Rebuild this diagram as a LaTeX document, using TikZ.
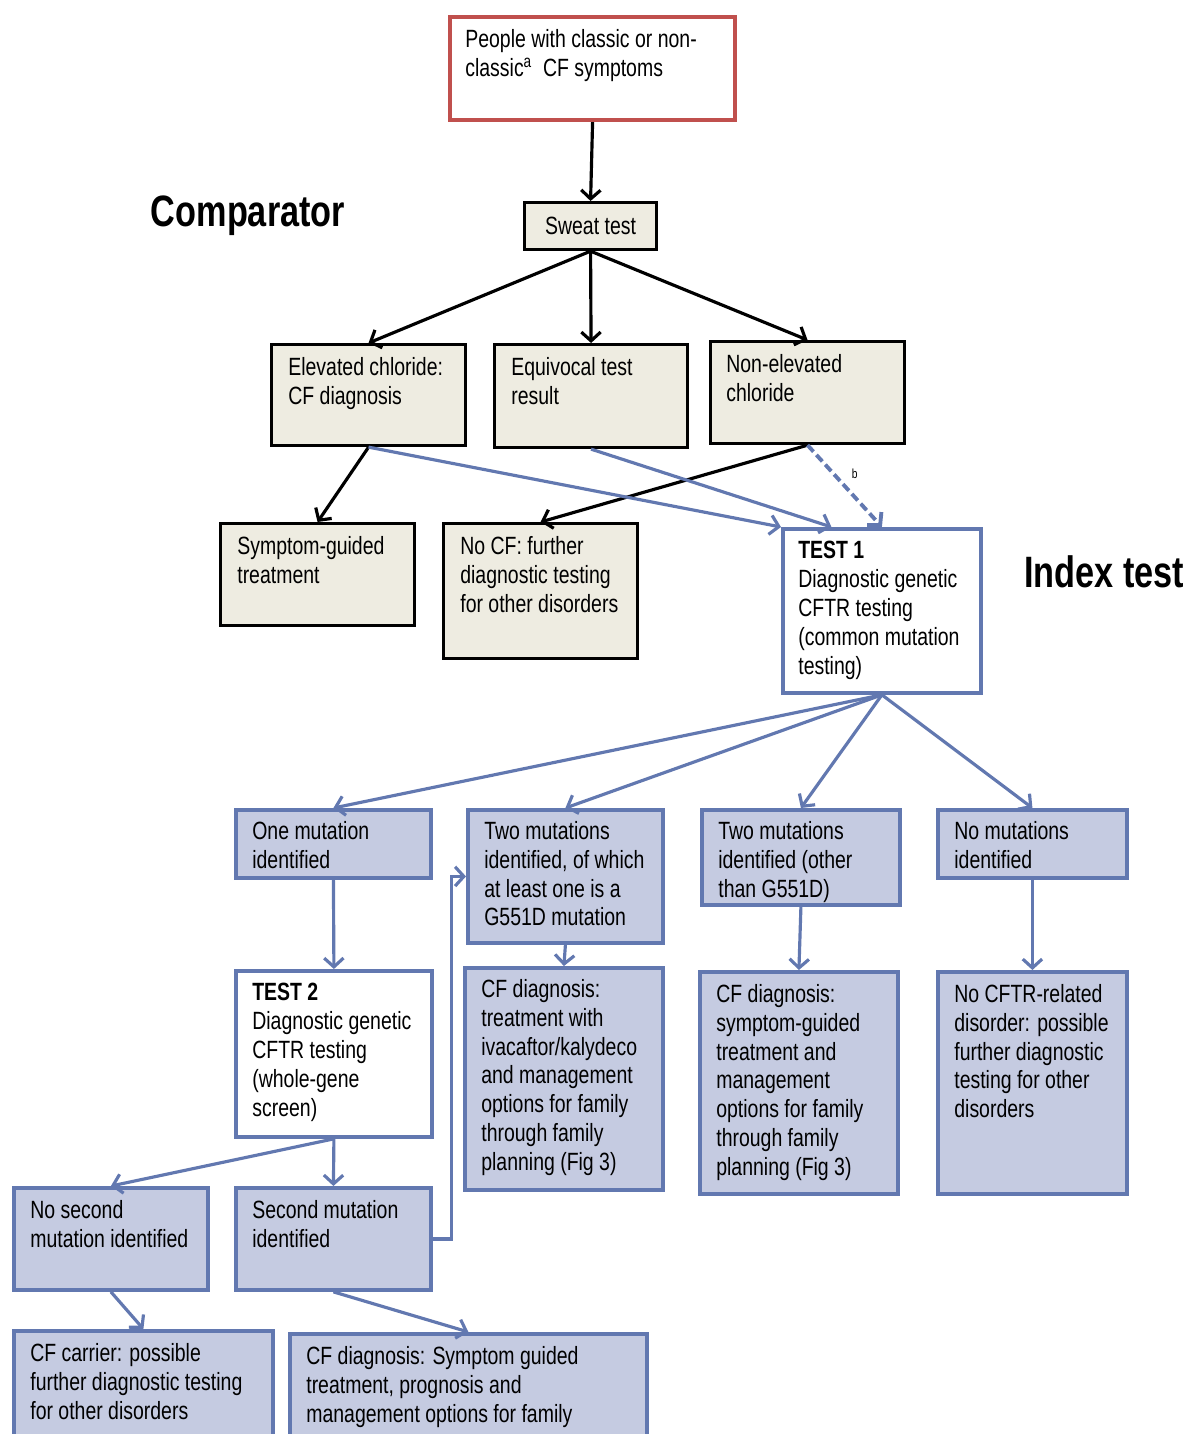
\documentclass[tikz,border=0pt]{standalone}
\usepackage{fontspec}
\setmainfont{Liberation Sans}[FakeStretch=0.78]
\usetikzlibrary{arrows.meta,calc}
\definecolor{beigeF}{RGB}{238,236,225}
\definecolor{blueD}{RGB}{98,120,176}
\definecolor{blueF}{RGB}{197,203,225}
\definecolor{redD}{RGB}{192,80,77}
\tikzset{
  cmpS/.style  ={draw=black, fill=beigeF, line width=1.8pt, anchor=north west, inner sep=0pt},
  idxS/.style  ={draw=blueD, fill=blueF, line width=2.2pt, anchor=north west, inner sep=0pt},
  testS/.style ={draw=blueD, fill=white, line width=2.2pt, anchor=north west, inner sep=0pt},
  startS/.style={draw=redD, fill=white, line width=2.4pt, anchor=north west, inner sep=0pt},
  txt/.style   ={anchor=north west, inner sep=0pt, align=left,
                 font=\fontsize{14.2}{16.4}\selectfont, execute at begin node=\strut},
  head/.style  ={font=\fontsize{25}{28}\selectfont\bfseries},
  blk/.style   ={draw=black, line width=1.8pt, -{Straight Barb[length=5pt,width=11pt]}},
  blu/.style   ={draw=blueD, line width=1.8pt, -{Straight Barb[length=5pt,width=11pt]}},
}

\begin{document}
\begin{tikzpicture}[x=0.02cm, y=-0.02cm]
  \useasboundingbox (0,0) rectangle (1189,1434);
  % headings
  \node[head] (cmp) at (248,216) {Comparator};
  \node[head] (idx) at (1104,572) {Index test};
  % comparator part
  \node[startS, minimum width=5.70cm, minimum height=2.06cm] (start) at (448,15) {};
  \node[txt] (startT) at ($(start.north west)+(17,14)$) {People with classic or non-\\classic\textsuperscript{a}\ \ CF symptoms};
  \node[cmpS, minimum width=2.64cm, minimum height=0.94cm, font=\fontsize{14.2}{16.4}\selectfont] (sweat) at (523,201) {Sweat test};
  \node[cmpS, minimum width=3.88cm, minimum height=2.02cm] (elev) at (270,343) {};
  \node[txt] (elevT) at ($(elev.north west)+(18,14)$) {Elevated chloride:\\CF diagnosis};
  \node[cmpS, minimum width=3.86cm, minimum height=2.06cm] (equiv) at (493,343) {};
  \node[txt] (equivT) at ($(equiv.north west)+(18,14)$) {Equivocal test\\result};
  \node[cmpS, minimum width=3.88cm, minimum height=2.04cm] (nonel) at (709,340) {};
  \node[txt] (nonelT) at ($(nonel.north west)+(17,14)$) {Non-elevated\\chloride};
  \node[cmpS, minimum width=3.88cm, minimum height=2.04cm] (sympt) at (219,522) {};
  \node[txt] (symptT) at ($(sympt.north west)+(18,14)$) {Symptom-guided\\treatment};
  \node[cmpS, minimum width=3.88cm, minimum height=2.70cm] (nocf) at (442,522) {};
  \node[txt] (nocfT) at ($(nocf.north west)+(18,14)$) {No CF: further\\diagnostic testing\\for other disorders};
  % index test part
  \node[testS, minimum width=3.96cm, minimum height=3.28cm] (tone) at (781,527) {};
  \node[txt] (toneT) at ($(tone.north west)+(17,14)$) {\textbf{TEST 1}\\Diagnostic genetic\\CFTR testing\\(common mutation\\testing)};
  \node[idxS, minimum width=3.90cm, minimum height=1.36cm] (onem) at (234,808) {};
  \node[txt] (onemT) at ($(onem.north west)+(18,13)$) {One mutation\\identified};
  \node[idxS, minimum width=3.90cm, minimum height=2.66cm] (twog) at (466,808) {};
  \node[txt] (twogT) at ($(twog.north west)+(18,13)$) {Two mutations\\identified, of which\\at least one is a\\G551D mutation};
  \node[idxS, minimum width=3.96cm, minimum height=1.90cm] (twoo) at (700,808) {};
  \node[txt] (twooT) at ($(twoo.north west)+(18,13)$) {Two mutations\\identified (other\\than G551D)};
  \node[idxS, minimum width=3.78cm, minimum height=1.36cm] (nomut) at (936,808) {};
  \node[txt] (nomutT) at ($(nomut.north west)+(18,13)$) {No mutations\\identified};
  \node[testS, minimum width=3.92cm, minimum height=3.32cm] (ttwo) at (234,969) {};
  \node[txt] (ttwoT) at ($(ttwo.north west)+(18,14)$) {\textbf{TEST 2}\\Diagnostic genetic\\CFTR testing\\(whole-gene\\screen)};
  \node[idxS, minimum width=3.96cm, minimum height=4.44cm] (cfiva) at (463,966) {};
  \node[txt] (cfivaT) at ($(cfiva.north west)+(18,13)$) {CF diagnosis:\\treatment with\\ivacaftor/kalydeco\\and management\\options for family\\through family\\planning (Fig 3)};
  \node[idxS, minimum width=3.96cm, minimum height=4.44cm] (cfsym) at (698,970) {};
  \node[txt] (cfsymT) at ($(cfsym.north west)+(18,14)$) {CF diagnosis:\\symptom-guided\\treatment and\\management\\options for family\\through family\\planning (Fig 3)};
  \node[idxS, minimum width=3.78cm, minimum height=4.44cm] (nocftr) at (936,970) {};
  \node[txt] (nocftrT) at ($(nocftr.north west)+(18,14)$) {No CFTR-related\\disorder: possible\\further diagnostic\\testing for other\\disorders};
  \node[idxS, minimum width=3.88cm, minimum height=2.04cm] (nosec) at (12,1186) {};
  \node[txt] (nosecT) at ($(nosec.north west)+(18,14)$) {No second\\mutation identified};
  \node[idxS, minimum width=3.90cm, minimum height=2.04cm] (secm) at (234,1186) {};
  \node[txt] (secmT) at ($(secm.north west)+(18,14)$) {Second mutation\\identified};
  \node[idxS, minimum width=5.18cm, minimum height=2.60cm] (carr) at (12,1329) {};
  \node[txt] (carrT) at ($(carr.north west)+(18,14)$) {CF carrier: possible\\further diagnostic testing\\for other disorders};
  \node[idxS, minimum width=7.14cm, minimum height=2.60cm] (cfdx) at (288,1332) {};
  \node[txt] (cfdxT) at ($(cfdx.north west)+(18,14)$) {CF diagnosis: Symptom guided\\treatment, prognosis and\\management options for family};
  % connectors
  \draw[blk] (start.south) -- (sweat.north);
  \draw[blk] (sweat.south) -- (elev.north);
  \draw[blk] (sweat.south) -- (equiv.north);
  \draw[blk] (sweat.south) -- (nonel.north);
  \draw[blk] (elev.south) -- (sympt.north);
  \draw[blk] (nonel.south) -- (nocf.north);
  \draw[blu] (elev.south) -- (tone.north west);
  \draw[blu] (equiv.south) -- ($(tone.north west)!0.25!(tone.north east)$);
  \draw[blu, line width=2.2pt, dash pattern=on 5pt off 2.5pt] (nonel.south) -- node[midway, above right, inner sep=3pt, font=\fontsize{7.5}{9}\selectfont] (bnote) {b} (tone.north);
  \draw[blu] (tone.south) -- (onem.north);
  \draw[blu] (tone.south) -- (twog.north);
  \draw[blu] (tone.south) -- (twoo.north);
  \draw[blu] (tone.south) -- (nomut.north);
  \draw[blu] (onem.south) -- (ttwo.north);
  \draw[blu] (twog.south) -- (cfiva.north);
  \draw[blu] (twoo.south) -- (cfsym.north);
  \draw[blu] (nomut.south) -- (nocftr.north);
  \draw[blu] (ttwo.south) -- (nosec.north);
  \draw[blu] (ttwo.south) -- (secm.north);
  \draw[blu] (secm.east) -- ++(19,0) |- (twog.west);
  \draw[blu] (nosec.south) -- (carr.north);
  \draw[blu] (secm.south) -- (cfdx.north);
\end{tikzpicture}
\end{document}
